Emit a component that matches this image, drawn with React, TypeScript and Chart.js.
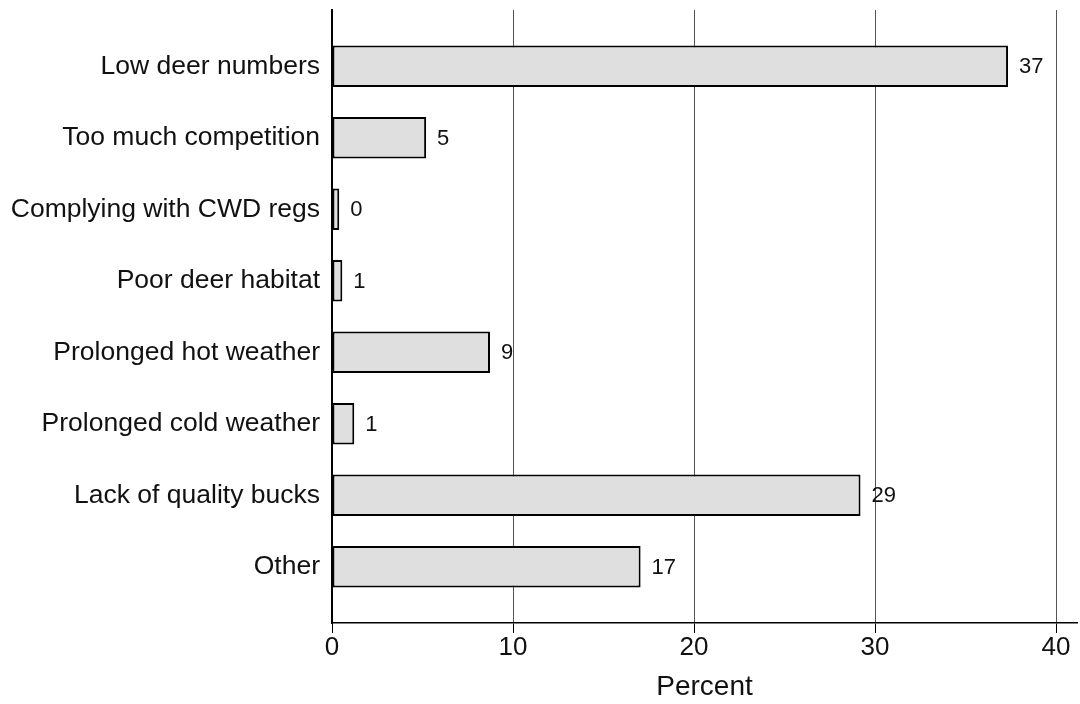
import React, { useEffect, useRef } from "react";
import { Chart, registerables } from "chart.js";

Chart.register(...registerables);

const categories = [
  "Low deer numbers",
  "Too much competition",
  "Complying with CWD regs",
  "Poor deer habitat",
  "Prolonged hot weather",
  "Prolonged cold weather",
  "Lack of quality bucks",
  "Other",
];
const percentValues = [37.35, 5.2, 0.4, 0.57, 8.73, 1.23, 29.2, 17.05];
const valueLabels = ["37", "5", "0", "1", "9", "1", "29", "17"];
const xTickValues = [0, 10, 20, 30, 40];
const xAxisTitle = "Percent";

const FONT = '"Liberation Sans", Arial, Helvetica, sans-serif';

const valueLabelPlugin = {
  id: "valueLabels",
  afterDatasetsDraw(chart: any) {
    const ctx = chart.ctx;
    const meta = chart.getDatasetMeta(0);
    ctx.save();
    ctx.font = `22px ${FONT}`;
    ctx.fillStyle = "#111";
    ctx.textAlign = "left";
    ctx.textBaseline = "middle";
    meta.data.forEach((el: any, i: number) => {
      ctx.fillText(valueLabels[i], el.x + 11, el.y + 1);
    });
    ctx.restore();
  },
};

export default function App() {
  const ref = useRef<HTMLCanvasElement | null>(null);
  useEffect(() => {
    if (!ref.current) return;
    const chart = new Chart(ref.current, {
      type: "bar",
      data: {
        datasets: [
          {
            data: percentValues.map((v, i) => ({ x: v, y: i })),
            backgroundColor: "#dfdfdf",
            borderColor: "#000",
            borderWidth: 2,
            borderSkipped: false,
            barPercentage: 0.578,
            categoryPercentage: 1,
          },
        ],
      },
      options: {
        indexAxis: "y",
        responsive: false,
        animation: false,
        devicePixelRatio: 1,
        layout: { padding: { top: 10, right: 3, left: 0, bottom: 0 } },
        plugins: {
          legend: { display: false },
          tooltip: { enabled: false },
        },
        scales: {
          y: {
            type: "linear",
            reverse: true,
            offset: false,
            min: -0.7865,
            max: 7.7865,
            afterBuildTicks: (axis: any) => {
              axis.ticks = categories.map((_, i) => ({ value: i }));
            },
            afterFit: (axis: any) => {
              axis.width = 332;
              axis.paddingTop = 0;
              axis.paddingBottom = 0;
            },
            grid: { display: false, drawTicks: false, offset: false },
            border: { display: true, color: "#000", width: 2 },
            ticks: {
              padding: 12,
              color: "#111",
              font: { family: FONT, size: 26.5 },
              callback: (v: any) => categories[v as number] ?? "",
            },
          },
          x: {
            type: "linear",
            min: 0,
            max: 41.16,
            afterBuildTicks: (axis: any) => {
              axis.ticks = xTickValues.map((v) => ({ value: v }));
            },
            afterFit: (axis: any) => {
              axis.height = 81;
              axis.paddingLeft = 0;
              axis.paddingRight = 0;
            },
            grid: {
              color: "#555",
              tickColor: "#000",
              tickLength: 10,
              lineWidth: 1,
            },
            border: { display: true, color: "#000", width: 1.5 },
            ticks: {
              padding: 2,
              color: "#111",
              font: { family: FONT, size: 26, lineHeight: 1 },
            },
            title: {
              display: true,
              text: xAxisTitle,
              color: "#111",
              font: { family: FONT, size: 28 },
              padding: { top: 0, bottom: 0 },
            },
          },
        },
      },
      plugins: [valueLabelPlugin],
    } as any);
    return () => chart.destroy();
  }, []);
  return (
    <div style={{ position: "fixed", left: 0, top: 0, width: 1080, height: 704, background: "#fff" }}>
      <canvas ref={ref} width={1080} height={704} style={{ display: "block" }} />
    </div>
  );
}
